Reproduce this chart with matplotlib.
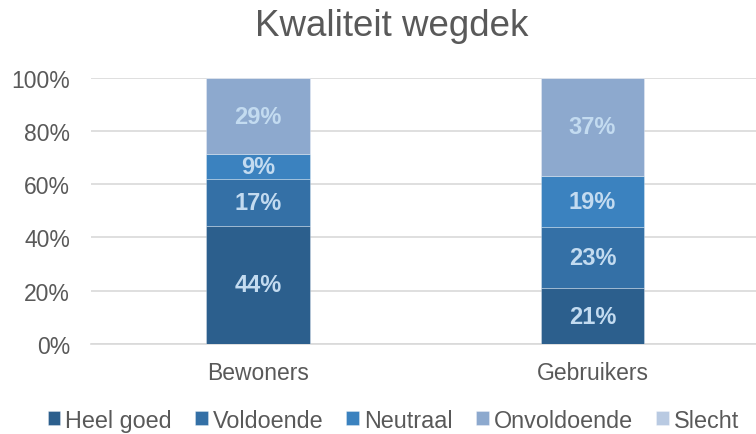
import matplotlib
matplotlib.use("Agg")
import matplotlib.pyplot as plt
from matplotlib.ticker import PercentFormatter
import numpy as np

plt.rcParams['font.family'] = ['Liberation Sans', 'DejaVu Sans']

categories = ["Bewoners", "Gebruikers"]
series_names = ["Heel goed", "Voldoende", "Neutraal", "Onvoldoende", "Slecht"]
heel_goed = [44.45, 21]
voldoende = [17.45, 23]
neutraal = [9.3, 19]
onvoldoende = [28.8, 37]
slecht = [0, 0]
series = [heel_goed, voldoende, neutraal, onvoldoende, slecht]
colors = ["#2C5F8D", "#3470A6", "#3B82BF", "#8DA9CE", "#B9CAE2"]
label_color = "#C3DBF0"

fig = plt.figure(figsize=(7.56, 4.35), dpi=100)
ax = fig.add_axes([0.12, 0.207, 0.885, 0.612])

x = np.arange(len(categories))
bottom = np.zeros(len(categories))
for name, vals, col in zip(series_names, series, colors):
    vals = np.array(vals, dtype=float)
    ax.bar(x, vals, 0.31, bottom=bottom, color=col, label=name, zorder=3,
           edgecolor=(1, 1, 1, 0.35), linewidth=0.6)
    for xi, v, b in zip(x, vals, bottom):
        if v > 0:
            ax.text(xi, b + v / 2, f"{v:.0f}%", ha="center", va="center",
                    color=label_color, fontsize=17, fontweight="bold", zorder=4)
    bottom += vals

ax.set_xlim(-0.5, 1.5)
ax.set_ylim(0, 100)
ax.set_yticks(np.arange(0, 101, 20))
ax.yaxis.set_major_formatter(PercentFormatter(decimals=0))
ax.set_xticks(x)
ax.set_xticklabels(categories)
ax.tick_params(axis="both", length=0, labelsize=16.5, labelcolor="#595959")
ax.tick_params(axis="y", pad=15)
ax.tick_params(axis="x", pad=12)
ax.grid(axis="y", color="#D9D9D9", linewidth=1.2, zorder=0)
for s in ["top", "right", "left"]:
    ax.spines[s].set_visible(False)
ax.spines["bottom"].set_color("#D9D9D9")
ax.spines["bottom"].set_linewidth(1.2)

fig.suptitle("Kwaliteit wegdek", x=0.518, y=0.98, fontsize=26.5, color="#595959")

leg = fig.legend(loc="lower center", bbox_to_anchor=(0.52, -0.043), ncol=5, frameon=False,
                 fontsize=16.8, handlelength=0.55, handleheight=0.55, handletextpad=0.2,
                 columnspacing=1.0, labelcolor="#595959")

fig.savefig("out.png", dpi=100)
